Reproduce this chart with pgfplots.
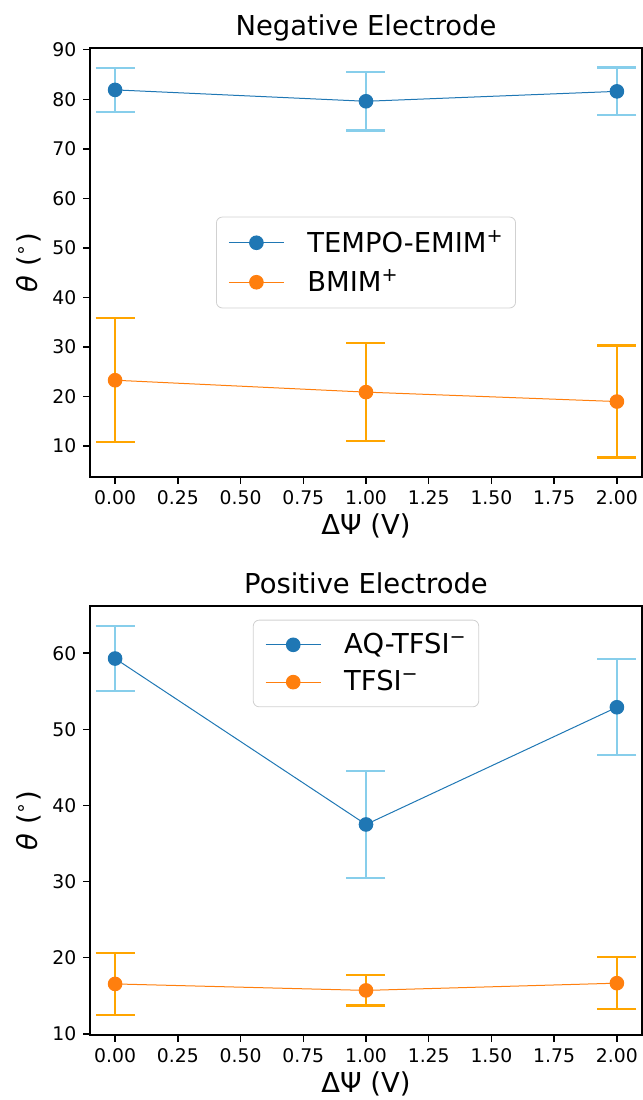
\documentclass[border=0pt]{standalone}
\usepackage{fontspec}
\setmainfont{DejaVu Sans}
\usepackage{pgfplots}
\usepackage{pgfplotstable}
\pgfplotsset{compat=1.18}
\definecolor{c0}{HTML}{1F77B4}
\definecolor{c1}{HTML}{FF7F0E}
\definecolor{sky}{HTML}{87CEEB}
\definecolor{org}{HTML}{FFA500}

\pgfplotstableread{
x y e
0 81.9 4.45
1 79.6 5.9
2 81.6 4.8
}\tempo
\pgfplotstableread{
x y e
0 23.3 12.5
1 20.9 9.9
2 19.0 11.3
}\bmim
\pgfplotstableread{
x y e
0 59.3 4.3
1 37.5 7.05
2 52.9 6.3
}\aq
\pgfplotstableread{
x y e
0 16.55 4.1
1 15.7 2.0
2 16.65 3.4
}\tfsi

\pgfplotsset{
  ebar/.style={forget plot, draw=none, no marks, error bars/.cd, y dir=both, y explicit,
    error bar style={draw=#1, line width=1.2pt},
    error mark options={draw=#1, rotate=90, mark size=9.75pt, line width=1.2pt}},
  mline/.style={#1, line width=0.5pt, mark=*, mark size=3.4pt, mark options={draw=#1, fill=#1}},
  myleg/.style={legend image code/.code={\draw[mark repeat=2,mark phase=2,##1] plot coordinates {(0pt,0pt) (13.75pt,0pt) (27.5pt,0pt)};}},
  myax/.style={
  scale only axis, width=276pt, height=214.5pt,
  xmin=-0.1, xmax=2.1,
  xtick={0,0.25,0.5,0.75,1,1.25,1.5,1.75,2},
  xticklabel style={/pgf/number format/.cd, fixed, fixed zerofill, precision=2},
  /pgf/number format/assume math mode=true,
  tick label style={font=\fontsize{9.4}{11}\selectfont},
  tick align=outside, xtick pos=bottom, ytick pos=left,
  major tick length=3.3pt,
  every tick/.style={black, line width=0.75pt},
  axis line style={line width=0.75pt},
  label style={font=\fontsize{13.7}{16}\selectfont},
  title style={font=\fontsize{13.7}{16}\selectfont, at={(0.5,1)}, anchor=base, yshift=0.5pt, inner sep=0pt},
  xlabel={ΔΨ (V)},
  ylabel={{\itshape θ} (\textsuperscript{∘})},
  xlabel style={at={(axis description cs:0.5,-0.114)}, anchor=center},
  ylabel style={at={(axis description cs:-0.11,0.5)}, anchor=center},
  legend style={draw=black!18, rounded corners=3pt, fill=white,
    font=\fontsize{13.7}{16}\selectfont, inner xsep=6pt, inner ysep=4.5pt, row sep=3pt,
    nodes={inner xsep=0pt},
    /tikz/every odd column/.append style={column sep=11.5pt}},
  legend cell align=left,
  myleg,
}}

\begin{document}
\begin{tikzpicture}
\path[use as bounding box] (0pt,0pt) rectangle (321.5pt,-550pt);
\begin{axis}[myax, at={(45pt,-24pt)}, anchor=north west,
  ymin=3.77, ymax=90.35, ytick={10,20,30,40,50,60,70,80,90},
  title={Negative Electrode},
  legend style={at={(0.5,0.5)}, anchor=center}]
\addplot[ebar=sky] table[x=x,y=y,y error=e] {\tempo};
\addplot[ebar=org] table[x=x,y=y,y error=e] {\bmim};
\addplot[mline=c0] table[x=x,y=y] {\tempo};
\addlegendentry{TEMPO-EMIM\textsuperscript{+}}
\addplot[mline=c1] table[x=x,y=y] {\bmim};
\addlegendentry{BMIM\textsuperscript{+}}
\end{axis}
\begin{axis}[myax, at={(45pt,-303pt)}, anchor=north west,
  ymin=9.84, ymax=66.2, ytick={10,20,30,40,50,60},
  title={Positive Electrode},
  legend style={at={(0.5,0.968)}, anchor=north}]
\addplot[ebar=sky] table[x=x,y=y,y error=e] {\aq};
\addplot[ebar=org] table[x=x,y=y,y error=e] {\tfsi};
\addplot[mline=c0] table[x=x,y=y] {\aq};
\addlegendentry{AQ-TFSI\textsuperscript{−}}
\addplot[mline=c1] table[x=x,y=y] {\tfsi};
\addlegendentry{TFSI\textsuperscript{−}}
\end{axis}
\end{tikzpicture}
\end{document}
